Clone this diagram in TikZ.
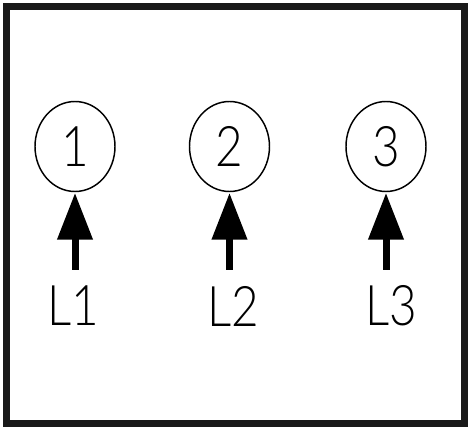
\documentclass[tikz,border=0pt]{standalone}
\usepackage{fontspec}
\setmainfont{Lato}[UprightFont=* Light, FakeStretch=0.85]
\usetikzlibrary{arrows.meta,shapes.geometric}
\begin{document}
\begin{tikzpicture}[x=0.75pt,y=-0.75pt,
  frame/.style={draw=black!90, line width=5.25pt},
  state/.style={ellipse, draw, line width=1.1pt, minimum width=60pt, minimum height=67.5pt, inner sep=0pt,
    font=\fontsize{42}{46}\selectfont},
  lbl/.style={inner sep=0pt, font=\fontsize{42}{46}\selectfont},
  arr/.style={line width=5.25pt, -{Triangle[width=25.5pt,length=35pt]}, shorten >=0.5pt}]
\useasboundingbox (0,0) rectangle (469,428);
\fill[white] (0,0) rectangle (469,428);
\draw[frame] (6.5,7) rectangle (464.5,424);
\node[state] (c1) at (75,146.5) {1};
\node[state] (c2) at (229.5,146.5) {2};
\node[state] (c3) at (386,146.5) {3};
\coordinate (a1) at (75,270);
\coordinate (a2) at (229.5,270);
\coordinate (a3) at (386,270);
\draw[arr] (a1) -- (c1.south);
\draw[arr] (a2) -- (c2.south);
\draw[arr] (a3) -- (c3.south);
\node[lbl] (l1) at (73,306) {L1};
\node[lbl] (l2) at (233,306) {L2};
\node[lbl] (l3) at (391,306) {L3};
\end{tikzpicture}
\end{document}
